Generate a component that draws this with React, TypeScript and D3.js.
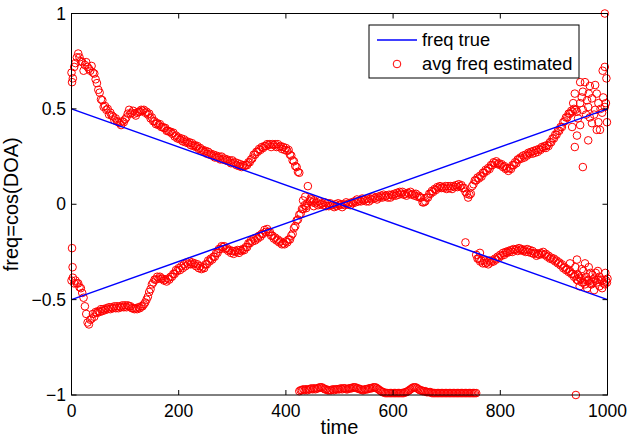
import React from "react";
import * as d3 from "d3";

// ---- data ----
const xTicks = [0, 200, 400, 600, 800, 1000];
const yTicks = [-1, -0.5, 0, 0.5, 1];
const yTickLabels = ["\u22121", "\u22120.5", "0", "0.5", "1"];

// true frequencies (two straight lines)
const trueT = [0, 1000];
const trueDown = [0.5, -0.5];
const trueUp = [-0.5, 0.5];

// estimated traces, sampled every 2.5 time units from their start time
const STEP = 2.5;
const traceAStart = 0;
const traceA = [
  0.69, 0.66, 0.72, 0.74, 0.77, 0.79, 0.77, 0.75, 0.745, 0.7,
  0.73, 0.745, 0.72, 0.71, 0.7, 0.725, 0.69, 0.685, 0.655, 0.635,
  0.6, 0.585, 0.55, 0.545, 0.51, 0.515, 0.495, 0.5, 0.47, 0.48,
  0.465, 0.46, 0.44, 0.45, 0.435, 0.43, 0.425, 0.415, 0.435, 0.43,
  0.445, 0.455, 0.475, 0.495, 0.475, 0.48, 0.49, 0.475, 0.465, 0.48,
  0.485, 0.485, 0.495, 0.49, 0.495, 0.48, 0.485, 0.47, 0.475, 0.45,
  0.455, 0.435, 0.435, 0.42, 0.425, 0.415, 0.42, 0.405, 0.405, 0.4,
  0.4, 0.385, 0.385, 0.38, 0.38, 0.37, 0.375, 0.355, 0.36, 0.345,
  0.35, 0.34, 0.345, 0.33, 0.34, 0.325, 0.33, 0.32, 0.325, 0.31,
  0.32, 0.305, 0.31, 0.3, 0.305, 0.29, 0.295, 0.28, 0.285, 0.275,
  0.28, 0.265, 0.275, 0.26, 0.265, 0.255, 0.26, 0.245, 0.255, 0.245,
  0.25, 0.235, 0.25, 0.235, 0.24, 0.23, 0.235, 0.225, 0.23, 0.215,
  0.23, 0.215, 0.22, 0.205, 0.215, 0.2, 0.21, 0.195, 0.205, 0.2,
  0.205, 0.205, 0.22, 0.22, 0.235, 0.24, 0.26, 0.26, 0.275, 0.275,
  0.29, 0.285, 0.3, 0.295, 0.305, 0.305, 0.315, 0.31, 0.315, 0.3,
  0.315, 0.31, 0.315, 0.3, 0.315, 0.3, 0.305, 0.29, 0.3, 0.285,
  0.295, 0.28, 0.285, 0.26, 0.255, 0.23, 0.225, 0.2, 0.195, 0.17,
  0.165,
];
const traceBStart = 0;
const traceB = [
  -0.4, -0.385, -0.415, -0.4, -0.415, -0.415, -0.435, -0.44, -0.465, -0.49,
  -0.535, -0.575, -0.62, -0.63, -0.605, -0.6, -0.575, -0.59, -0.565, -0.57,
  -0.56, -0.565, -0.55, -0.56, -0.55, -0.555, -0.545, -0.55, -0.54, -0.55,
  -0.54, -0.545, -0.535, -0.545, -0.535, -0.545, -0.535, -0.54, -0.53, -0.54,
  -0.53, -0.54, -0.53, -0.535, -0.535, -0.545, -0.545, -0.55, -0.545, -0.55,
  -0.54, -0.545, -0.535, -0.535, -0.525, -0.515, -0.5, -0.485, -0.46, -0.445,
  -0.42, -0.41, -0.395, -0.395, -0.38, -0.39, -0.38, -0.39, -0.39, -0.4,
  -0.395, -0.405, -0.39, -0.395, -0.38, -0.38, -0.365, -0.365, -0.345, -0.35,
  -0.335, -0.345, -0.325, -0.335, -0.315, -0.325, -0.305, -0.315, -0.3, -0.315,
  -0.305, -0.315, -0.31, -0.325, -0.315, -0.335, -0.325, -0.34, -0.33, -0.335,
  -0.315, -0.315, -0.295, -0.3, -0.285, -0.29, -0.275, -0.275, -0.255, -0.255,
  -0.235, -0.235, -0.22, -0.225, -0.22, -0.235, -0.23, -0.245, -0.24, -0.255,
  -0.245, -0.26, -0.245, -0.25, -0.24, -0.255, -0.24, -0.245, -0.235, -0.24,
  -0.225, -0.225, -0.205, -0.205, -0.19, -0.195, -0.18, -0.19, -0.175, -0.18,
  -0.165, -0.17, -0.155, -0.155, -0.135, -0.145, -0.13, -0.145, -0.145, -0.165,
  -0.165, -0.18, -0.175, -0.19, -0.185, -0.2, -0.195, -0.21, -0.205, -0.21,
  -0.195, -0.2, -0.185, -0.185, -0.165, -0.155, -0.125, -0.115, -0.085, -0.08,
  -0.055, -0.05, -0.025, -0.025, -0.005, -0.01, 0.005,
];
const traceCStart = 445;
const traceC = [
  0.015, 0.025, 0.01, 0.02, 0.005, 0.01, -0.005, 0.015, 0.0, 0.005,
  -0.005, 0.01, -0.01, 0.005, -0.01, 0.005, -0.005, -0.005, -0.015, 0.0,
  -0.01, 0.005, -0.005, 0.0, -0.015, 0.0, -0.005, 0.01, 0.0, 0.005,
  -0.005, 0.01, 0.005, 0.015, 0.01, 0.025, 0.015, 0.02, 0.015, 0.03,
  0.02, 0.025, 0.015, 0.03, 0.015, 0.03, 0.025, 0.04, 0.03, 0.035,
  0.025, 0.04, 0.035, 0.045, 0.035, 0.05, 0.04, 0.045, 0.035, 0.05,
  0.035, 0.05, 0.045, 0.055, 0.045, 0.06, 0.05, 0.065, 0.055, 0.065,
  0.05, 0.055, 0.045, 0.06, 0.055, 0.065, 0.05, 0.055, 0.045, 0.055,
  0.04, 0.045, 0.035, 0.035, 0.01, 0.01, 0.015, 0.035, 0.035, 0.055,
  0.055, 0.07, 0.065, 0.08, 0.075, 0.09, 0.085, 0.095, 0.085, 0.09,
  0.085, 0.095, 0.08, 0.095, 0.085, 0.095, 0.08, 0.095, 0.09, 0.1,
  0.09, 0.105, 0.095, 0.1, 0.085, 0.085, 0.065, 0.055, 0.035, 0.05,
  0.055, 0.095, 0.105, 0.125, 0.125, 0.14, 0.135, 0.15, 0.145, 0.165,
  0.165, 0.18, 0.175, 0.19, 0.185, 0.205, 0.205, 0.22, 0.215, 0.225,
  0.21, 0.215, 0.205, 0.21, 0.195, 0.2, 0.185, 0.19, 0.175, 0.19,
  0.185, 0.205, 0.205, 0.22, 0.215, 0.235, 0.235, 0.245, 0.24, 0.255,
  0.245, 0.26, 0.255, 0.27, 0.265, 0.275, 0.265, 0.28, 0.27, 0.285,
  0.275, 0.29, 0.285, 0.3, 0.295, 0.305, 0.295, 0.31, 0.305, 0.325,
  0.325, 0.345, 0.345, 0.365, 0.365, 0.385, 0.385, 0.405, 0.405, 0.43,
  0.435, 0.455, 0.455, 0.475, 0.475, 0.49, 0.485, 0.5, 0.495,
];
const traceDStart = 425;
const traceD = [
  -0.98, -0.975, -0.975, -0.97, -0.975, -0.97, -0.975, -0.97, -0.97, -0.965,
  -0.97, -0.965, -0.97, -0.965, -0.965, -0.96, -0.96, -0.96, -0.965, -0.97,
  -0.97, -0.975, -0.975, -0.975, -0.975, -0.97, -0.975, -0.97, -0.97, -0.97,
  -0.97, -0.965, -0.97, -0.965, -0.965, -0.97, -0.97, -0.965, -0.965, -0.965,
  -0.96, -0.96, -0.96, -0.965, -0.965, -0.97, -0.97, -0.975, -0.975, -0.97,
  -0.97, -0.97, -0.965, -0.965, -0.965, -0.96, -0.96, -0.96, -0.965, -0.97,
  -0.975, -0.98, -0.985, -0.985, -0.99, -0.99,
  -0.99, -0.99, -0.99, -0.99, -0.99, -0.99, -0.99, -0.99, -0.99, -0.99, -0.99, -0.99, -0.99,
  -0.985, -0.985, -0.98, -0.975, -0.97, -0.965, -0.96, -0.96, -0.96, -0.965,
  -0.97, -0.975, -0.975, -0.98, -0.98, -0.98, -0.985, -0.985, -0.985, -0.985, -0.99,
  -0.99, -0.99, -0.99, -0.99, -0.99, -0.99, -0.99, -0.99, -0.99, -0.99,
  -0.99, -0.99, -0.99, -0.99, -0.99, -0.99, -0.99, -0.99, -0.99, -0.99,
  -0.99, -0.99, -0.99, -0.99, -0.99, -0.99, -0.99, -0.99, -0.99, -0.99,
  -0.99, -0.99, -0.99,
];
const traceEStart = 755;
const traceE = [
  -0.265, -0.285, -0.285, -0.3, -0.295, -0.31, -0.295, -0.31, -0.305, -0.315,
  -0.295, -0.305, -0.295, -0.3, -0.285, -0.29, -0.275, -0.28, -0.265, -0.27,
  -0.255, -0.265, -0.25, -0.255, -0.245, -0.25, -0.24, -0.25, -0.235, -0.24,
  -0.235, -0.245, -0.23, -0.24, -0.235, -0.245, -0.24, -0.25, -0.235, -0.25,
  -0.24, -0.255, -0.245, -0.26, -0.255, -0.27, -0.26, -0.265, -0.255, -0.26,
  -0.25, -0.265, -0.26, -0.275, -0.27, -0.285, -0.28, -0.29, -0.285, -0.3,
  -0.295, -0.31, -0.305, -0.32, -0.315, -0.335, -0.33, -0.345, -0.34, -0.355,
  -0.35, -0.365, -0.365, -0.38, -0.375, -0.395, -0.4, -0.385, -0.39, -0.41,
  -0.41, -0.395, -0.38, -0.4, -0.4, -0.415, -0.42, -0.405, -0.39, -0.4,
  -0.41, -0.395, -0.38, -0.395, -0.4, -0.415, -0.42, -0.4, -0.39,
];
// isolated / scattered estimates [time, value]
const scatterPts: [number, number][] = [
  [1, 0.64], [1, -0.23], [2, -0.33], [441, 0.095], [436, 0.04], [446, 0.03], [452, -0.01],
  [432, 0.02], [438, -0.02],
  [735, -0.2], [762, -0.255], [941, -1.0], [995, 1.0],
  [995, 0.72], [991, 0.7], [998, 0.66], [949, 0.64], [958, 0.64], [977, 0.625], [967, 0.62],
  [939, 0.58], [954, 0.59], [980, 0.58], [992, 0.56], [936, 0.53], [949, 0.53], [962, 0.545],
  [971, 0.555], [983, 0.53], [995, 0.51], [943, 0.485], [954, 0.495], [964, 0.51], [977, 0.495],
  [990, 0.48], [945, 0.45], [967, 0.455], [983, 0.43], [999, 0.43], [934, 0.405], [949, 0.415],
  [971, 0.425], [980, 0.39], [986, 0.39], [943, 0.36], [964, 0.335], [939, 0.3], [954, 0.195],
  [960, 0.47], [975, 0.47], [987, 0.5], [997, 0.53], [952, 0.56], [965, 0.58],
  [930, -0.31], [940, -0.33], [943, -0.29], [958, -0.31], [948, -0.43], [955, -0.35],
  [962, -0.44], [968, -0.36], [975, -0.45], [982, -0.35], [990, -0.44], [996, -0.36],
  [945, -0.37], [958, -0.42], [972, -0.37], [985, -0.43], [999, -0.41], [952, -0.34],
  [965, -0.33], [978, -0.36],
];

const W = 629;
const H = 438;
const M = { left: 71.5, right: 607.5, top: 13.5, bottom: 395 };
const FONT = "'Liberation Sans', Arial, Helvetica, sans-serif";
const FS = 17.5;
const FS_LABEL = 20;
const FS_LEG = 18.3;

export default function App() {
  const x = d3.scaleLinear().domain([0, 1000]).range([M.left, M.right]);
  const y = d3.scaleLinear().domain([-1, 1]).range([M.bottom, M.top]);

  const pts: [number, number][] = [];
  const addTrace = (start: number, vals: number[]) =>
    vals.forEach((v, i) => pts.push([start + i * STEP, v]));
  addTrace(traceAStart, traceA);
  addTrace(traceBStart, traceB);
  addTrace(traceCStart, traceC);
  addTrace(traceDStart, traceD);
  addTrace(traceEStart, traceE);
  scatterPts.forEach((p) => pts.push(p));

  const line = d3
    .line<number>()
    .x((_, i) => x(trueT[i]))
    .y((d) => y(d));

  const tickLen = 5;
  const lx = 369, ly = 25, lw = 210, lh = 53;

  return (
    <svg
      width={W}
      height={H}
      style={{ position: "absolute", left: 0, top: 0, background: "#fff" }}
      fontFamily={FONT}
    >
      <rect x={0} y={0} width={W} height={H} fill="#fff" />
      {pts.map((p, i) => (
        <circle
          key={i}
          cx={x(p[0])}
          cy={y(p[1])}
          r={3.8}
          fill="none"
          stroke="#ff0000"
          strokeWidth={1}
        />
      ))}
      <path d={line(trueDown) || ""} fill="none" stroke="#0000ff" strokeWidth={1.5} />
      <path d={line(trueUp) || ""} fill="none" stroke="#0000ff" strokeWidth={1.5} />

      {/* axes box */}
      <rect
        x={M.left}
        y={M.top}
        width={M.right - M.left}
        height={M.bottom - M.top}
        fill="none"
        stroke="#000"
        strokeWidth={1}
      />
      {xTicks.map((t) => (
        <g key={"x" + t}>
          <line x1={x(t)} x2={x(t)} y1={M.bottom} y2={M.bottom - tickLen} stroke="#000" />
          <line x1={x(t)} x2={x(t)} y1={M.top} y2={M.top + tickLen} stroke="#000" />
          <text x={x(t)} y={417} textAnchor="middle" fontSize={FS} fill="#000">
            {t}
          </text>
        </g>
      ))}
      {yTicks.map((t, i) => (
        <g key={"y" + t}>
          <line x1={M.left} x2={M.left + tickLen} y1={y(t)} y2={y(t)} stroke="#000" />
          <line x1={M.right} x2={M.right - tickLen} y1={y(t)} y2={y(t)} stroke="#000" />
          <text
            x={66}
            y={y(t)}
            dy="0.35em"
            textAnchor="end"
            fontSize={FS}
            fill="#000"
          >
            {yTickLabels[i]}
          </text>
        </g>
      ))}
      <text x={(M.left + M.right) / 2} y={434} textAnchor="middle" fontSize={FS_LABEL} fill="#000">
        time
      </text>
      <text
        transform={`translate(18,${(M.top + M.bottom) / 2}) rotate(-90)`}
        textAnchor="middle"
        fontSize={FS_LABEL}
        fill="#000"
      >
        freq=cos(DOA)
      </text>

      {/* legend */}
      <rect x={lx} y={ly} width={lw} height={lh} fill="#fff" stroke="#000" strokeWidth={1} />
      <line x1={377} x2={417} y1={40} y2={40} stroke="#0000ff" strokeWidth={1.5} />
      <text x={422} y={40} dy="0.35em" fontSize={FS_LEG} fill="#000">
        freq true
      </text>
      <circle cx={397} cy={64} r={3.8} fill="none" stroke="#ff0000" strokeWidth={1} />
      <text x={422} y={64} dy="0.35em" fontSize={FS_LEG} fill="#000">
        avg freq estimated
      </text>
    </svg>
  );
}
